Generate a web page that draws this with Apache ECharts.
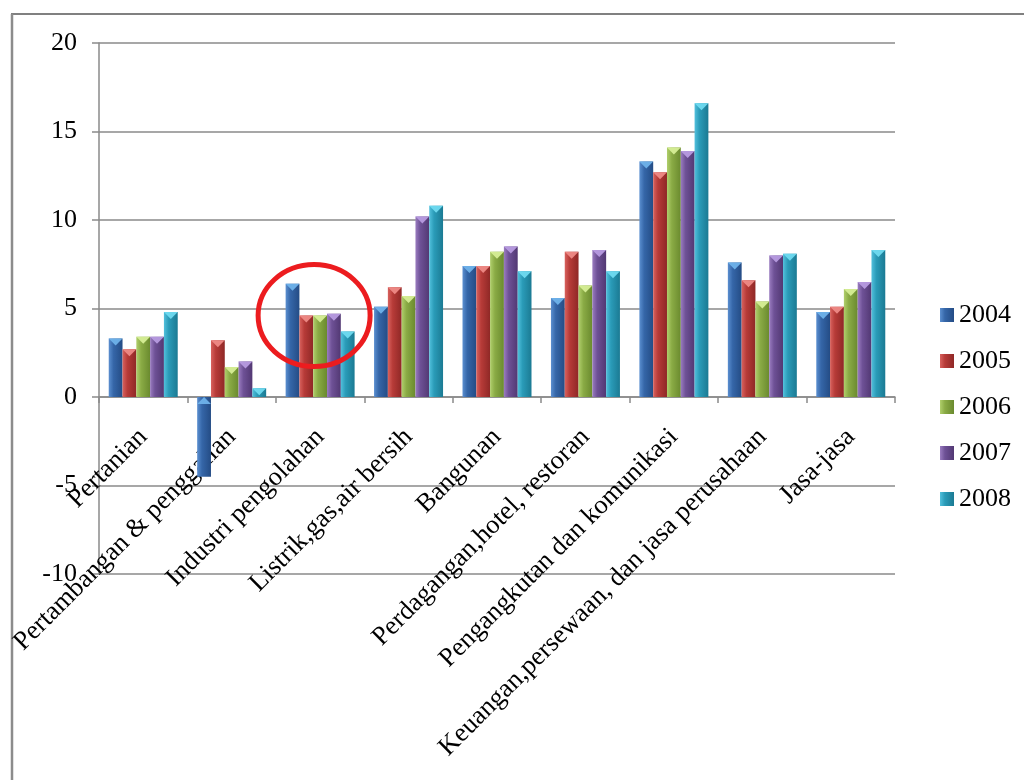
<!DOCTYPE html>
<html>
<head>
<meta charset="utf-8">
<title>PDB sektoral 2004-2008</title>
<script src="https://cdn.jsdelivr.net/npm/echarts@6/dist/echarts.min.js"></script>
<style>
  html, body { margin: 0; padding: 0; background: #ffffff; }
  #chart { width: 1024px; height: 780px; }
</style>
</head>
<body>
<div id="chart"></div>
<script>
// Sector categories (x axis)
const categories = [
  'Pertanian',
  'Pertambangan & penggalian',
  'Industri pengolahan',
  'Listrik,gas,air bersih',
  'Bangunan',
  'Perdagangan,hotel, restoran',
  'Pengangkutan dan komunikasi',
  'Keuangan,persewaan, dan jasa perusahaan',
  'Jasa-jasa'
];

// Series names (legend)
const years = ['2004', '2005', '2006', '2007', '2008'];

// Values per year, one per sector
const v2004 = [3.3, -4.5, 6.4, 5.1, 7.4, 5.6, 13.3, 7.6, 4.8];
const v2005 = [2.7, 3.2, 4.6, 6.2, 7.4, 8.2, 12.7, 6.6, 5.1];
const v2006 = [3.4, 1.7, 4.6, 5.7, 8.2, 6.3, 14.1, 5.4, 6.1];
const v2007 = [3.4, 2.0, 4.7, 10.2, 8.5, 8.3, 13.9, 8.0, 6.5];
const v2008 = [4.8, 0.5, 3.7, 10.8, 7.1, 7.1, 16.6, 8.1, 8.3];

// Y axis range
const yMin = -10;
const yMax = 20;
const yStep = 5;

const seriesValues = [v2004, v2005, v2006, v2007, v2008];

// Bevelled bar look: light left edge, mid body, dark right edge; lighter top cap
const palette = [
  { light: '#5b8fd0', mid: '#3566a8', dark: '#244c85', cap: '#6fb2ea' },
  { light: '#d8625e', mid: '#b73b38', dark: '#8f2826', cap: '#ee8a86' },
  { light: '#b0cf6c', mid: '#8aab45', dark: '#6a8a2e', cap: '#d6ee96' },
  { light: '#9a7cc0', mid: '#6e5196', dark: '#523873', cap: '#b79be0' },
  { light: '#52c0dc', mid: '#2a9bb8', dark: '#1b7a93', cap: '#6fdaf0' }
];

function bodyGradient(c) {
  return new echarts.graphic.LinearGradient(0, 0, 1, 0, [
    { offset: 0, color: c.light },
    { offset: 0.35, color: c.mid },
    { offset: 1, color: c.dark }
  ]);
}

const serif = "'Liberation Serif', 'Times New Roman', serif";
const axisGray = '#8a8a8a';
const barGapCat = '22%';

const series = [];
years.forEach(function (name, i) {
  series.push({
    name: name,
    type: 'bar',
    data: seriesValues[i],
    barGap: '0%',
    barCategoryGap: barGapCat,
    itemStyle: { color: bodyGradient(palette[i]) },
    emphasis: { disabled: true },
    z: 2
  });
});
// Top caps of the bevelled bars
years.forEach(function (name, i) {
  series.push({
    name: name,
    type: 'pictorialBar',
    data: seriesValues[i].map(function (v) {
      return v < 0 ? { value: v, symbolPosition: 'start' } : v;
    }),
    barGap: '0%',
    barCategoryGap: barGapCat,
    symbol: 'triangle',
    symbolRotate: 180,
    symbolSize: ['100%', 7],
    symbolPosition: 'end',
    itemStyle: { color: palette[i].cap, opacity: 0.95 },
    emphasis: { disabled: true },
    silent: true,
    z: 3
  });
});

const chart = echarts.init(document.getElementById('chart'), null, { renderer: 'canvas' });

const frame = [
  { type: 'line', shape: { x1: 11, y1: 14, x2: 1024, y2: 14 }, style: { stroke: '#808080', lineWidth: 2 }, silent: true },
  { type: 'line', shape: { x1: 12, y1: 14, x2: 12, y2: 780 }, style: { stroke: '#8c8c8c', lineWidth: 2.5 }, silent: true }
];

const option = {
  animation: false,
  backgroundColor: '#ffffff',
  textStyle: { fontFamily: serif },
  grid: { left: 99, right: 129, top: 43, bottom: 206, containLabel: false, outerBoundsMode: 'none' },
  legend: {
    orient: 'vertical',
    left: 935,
    top: 297,
    data: years,
    icon: 'rect',
    itemWidth: 14,
    itemHeight: 14,
    itemGap: 20,
    textStyle: { fontFamily: serif, fontSize: 26, color: '#000000' }
  },
  xAxis: {
    type: 'category',
    data: categories,
    position: 'bottom',
    offset: 0,
    axisLine: { onZero: false, lineStyle: { color: axisGray, width: 1.5 } },
    axisTick: { show: true, length: 6, lineStyle: { color: axisGray, width: 1.5 } },
    axisLabel: {
      rotate: 45,
      interval: 0,
      margin: 36,
      fontFamily: serif,
      fontSize: 26.5,
      color: '#000000'
    },
    splitLine: { show: false }
  },
  yAxis: {
    type: 'value',
    min: yMin,
    max: yMax,
    interval: yStep,
    axisLine: { show: true, lineStyle: { color: axisGray, width: 1.5 } },
    axisTick: { show: true, length: 7, lineStyle: { color: axisGray, width: 1.5 } },
    axisLabel: { margin: 22, fontFamily: serif, fontSize: 26, color: '#000000' },
    splitLine: { show: true, lineStyle: { color: axisGray, width: 1.5 } }
  },
  series: series,
  graphic: frame
};

chart.setOption(option);

// Lift the category axis (line, ticks, labels) up to the zero line
const zeroY = chart.convertToPixel({ yAxisIndex: 0 }, 0);
const floorY = chart.convertToPixel({ yAxisIndex: 0 }, yMin);

// Red highlight ellipse around the manufacturing sector bars
const hl = chart.convertToPixel({ xAxisIndex: 0, yAxisIndex: 0 }, ['Industri pengolahan', 4.6]);

chart.setOption({
  xAxis: { offset: zeroY - floorY },
  graphic: frame.concat([{
    type: 'ellipse',
    shape: { cx: hl[0] - 6, cy: hl[1], rx: 56, ry: 51 },
    style: { fill: 'none', stroke: '#ec1c1f', lineWidth: 5 },
    silent: true,
    z: 10
  }])
});
</script>
</body>
</html>
